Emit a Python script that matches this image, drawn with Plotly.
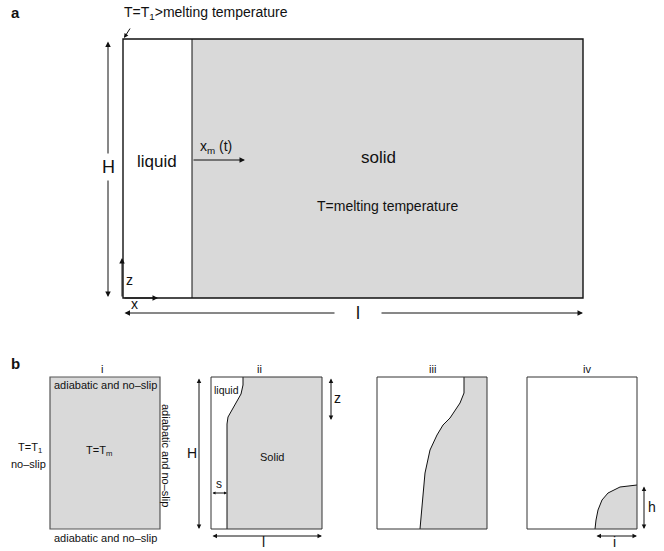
import plotly.graph_objects as go

W, H = 664, 551
FONT = "Liberation Sans, Arial, Helvetica, sans-serif"
GRAY = "#d9d9d9"
INK = "#111111"

# ---- panel a geometry (pixel space) ----
a_box = [123, 39, 583, 298]          # left, top, right, bottom
a_front_x = 192                       # melt front position x_m(t)

# ---- panel b boxes ----
b_top, b_bottom = 377, 529
box_i = [50, 160]
box_ii = [211, 322]
box_iii = [377, 487]
box_iv = [527, 637]

# melt-front curves for panels ii, iii, iv
front_ii_x = [243, 243, 241, 236, 231, 228, 227, 227]
front_ii_y = [377, 385, 394, 403, 411, 417, 424, 529]
front_iii_x = [464, 464, 460, 450, 443, 437, 430, 425, 420]
front_iii_y = [377, 393, 403, 418, 425, 435, 450, 473, 529]
front_iv_x = [637, 620, 608, 602, 598, 596, 595]
front_iv_y = [485, 487, 493, 500, 510, 520, 529]

fig = go.Figure()


def rect(x0, y0, x1, y1, fill=None, color=INK, width=1.0):
    fig.add_shape(type="rect", x0=x0, y0=y0, x1=x1, y1=y1, xref="x", yref="y",
                  line=dict(color=color, width=width),
                  fillcolor=fill if fill else "rgba(0,0,0,0)", layer="above")


def region(xs, ys):
    fig.add_trace(go.Scatter(x=xs, y=ys, mode="lines", fill="toself",
                             fillcolor=GRAY, line=dict(width=0),
                             hoverinfo="skip", showlegend=False))


def curve(xs, ys):
    fig.add_trace(go.Scatter(x=xs, y=ys, mode="lines",
                             line=dict(color=INK, width=1),
                             hoverinfo="skip", showlegend=False))


def arrow(x0, y0, x1, y1, both=False, size=1.0):
    fig.add_annotation(x=x1, y=y1, ax=x0, ay=y0, xref="x", yref="y",
                       axref="x", ayref="y", text="", showarrow=True,
                       arrowhead=2, startarrowhead=2, arrowsize=size,
                       startarrowsize=size, arrowwidth=1, arrowcolor=INK,
                       arrowside="end+start" if both else "end",
                       standoff=0, startstandoff=0)


def label(x, y, text, size=12, bold=False, bg=None, angle=0, xanchor="center",
          yanchor="middle", pad=1):
    if bold:
        text = "<b>" + text + "</b>"
    fig.add_annotation(x=x, y=y, xref="x", yref="y", text=text, showarrow=False,
                       font=dict(family=FONT, size=size, color=INK),
                       bgcolor=bg if bg else "rgba(0,0,0,0)", borderpad=pad,
                       textangle=angle, xanchor=xanchor, yanchor=yanchor)


# ---------------- panel a ----------------
l, t, r, b = a_box
rect(a_front_x, t, r, b, fill=GRAY, width=0)
fig.add_shape(type="rect", x0=l, y0=t, x1=r, y1=b, line=dict(color=INK, width=1.4),
              fillcolor="rgba(0,0,0,0)")
fig.add_shape(type="line", x0=a_front_x, y0=t, x1=a_front_x, y1=b,
              line=dict(color=INK, width=1))

label(15, 12, "a", size=15, bold=True)
label(122, 13, "T=T<sub>1</sub>&gt;melting temperature", size=14, xanchor="left")
arrow(131, 27, 124, 38, size=0.9)

arrow(108, 40, 108, 297, both=True, size=1.1)
label(108, 167, "H", size=18, bg="white", pad=3)
arrow(123, 313, 583, 313, both=True, size=1.1)
label(358, 313, "&nbsp;&nbsp;&nbsp;&nbsp;l&nbsp;&nbsp;&nbsp;&nbsp;", size=18, bg="white")

label(157, 161, "liquid", size=17)
label(378, 157, "solid", size=17)
label(387, 206, "T=melting temperature", size=14)
arrow(192, 160, 245, 160, size=1.1)
label(216, 147, "x<sub>m</sub> (t)", size=14)

arrow(122, 298, 122, 258, size=1.1)
label(129, 280, "z", size=14)
arrow(123, 298, 158, 298, size=1.1)
label(134, 304, "x", size=14)

# ---------------- panel b ----------------
label(15, 363, "b", size=15, bold=True)

# i: initial state
rect(box_i[0], b_top, box_i[1], b_bottom, fill=GRAY, color="#555555", width=1.2)
label(102, 369, "i", size=11)
label(105, 385, "adiabatic and no\u2013slip", size=11)
label(105, 538, "adiabatic and no\u2013slip", size=11)
label(166, 455, "adiabatic and no\u2013slip", size=11, angle=90)
label(30, 448, "T=T<sub>1</sub>", size=11, pad=0)
label(28, 464, "no\u2013slip", size=11, pad=0)
label(99, 451, "T=T<sub>m</sub>", size=11)

# ii
region(front_ii_x + [box_ii[1], box_ii[1]], front_ii_y + [b_bottom, b_top])
curve(front_ii_x, front_ii_y)
rect(box_ii[0], b_top, box_ii[1], b_bottom, color="#333333")
label(259, 369, "ii", size=11)
label(226, 390, "liquid", size=10.5)
label(272, 457, "Solid", size=11)
arrow(199, 377, 199, 529, both=True, size=0.9)
label(192, 453, "H", size=14)
arrow(331, 377, 331, 420, both=True, size=0.9)
label(337, 398, "z", size=14)
arrow(211, 493, 227, 493, both=True, size=0.6)
label(219, 484, "s", size=12)
arrow(211, 536, 322, 536, both=True, size=0.9)
label(263, 551, "l", size=14, yanchor="bottom", pad=0)

# iii
region(front_iii_x + [box_iii[1], box_iii[1]], front_iii_y + [b_bottom, b_top])
curve(front_iii_x, front_iii_y)
rect(box_iii[0], b_top, box_iii[1], b_bottom, color="#333333")
label(432, 369, "iii", size=11)

# iv
region(front_iv_x + [box_iv[1]], front_iv_y + [b_bottom])
curve(front_iv_x, front_iv_y)
rect(box_iv[0], b_top, box_iv[1], b_bottom, color="#333333")
label(587, 369, "iv", size=11)
arrow(644, 485, 644, 529, both=True, size=0.9)
label(652, 507, "h", size=14)
arrow(595, 536, 637, 536, both=True, size=0.9)
label(614, 551, "i", size=14, yanchor="bottom", pad=0)

fig.update_layout(
    width=W, height=H, autosize=False,
    margin=dict(l=0, r=0, t=0, b=0),
    paper_bgcolor="white", plot_bgcolor="white",
    xaxis=dict(range=[0, W], visible=False, fixedrange=True),
    yaxis=dict(range=[H, 0], visible=False, fixedrange=True),
    showlegend=False,
)

fig.write_html("out.html", config={"displayModeBar": False})
